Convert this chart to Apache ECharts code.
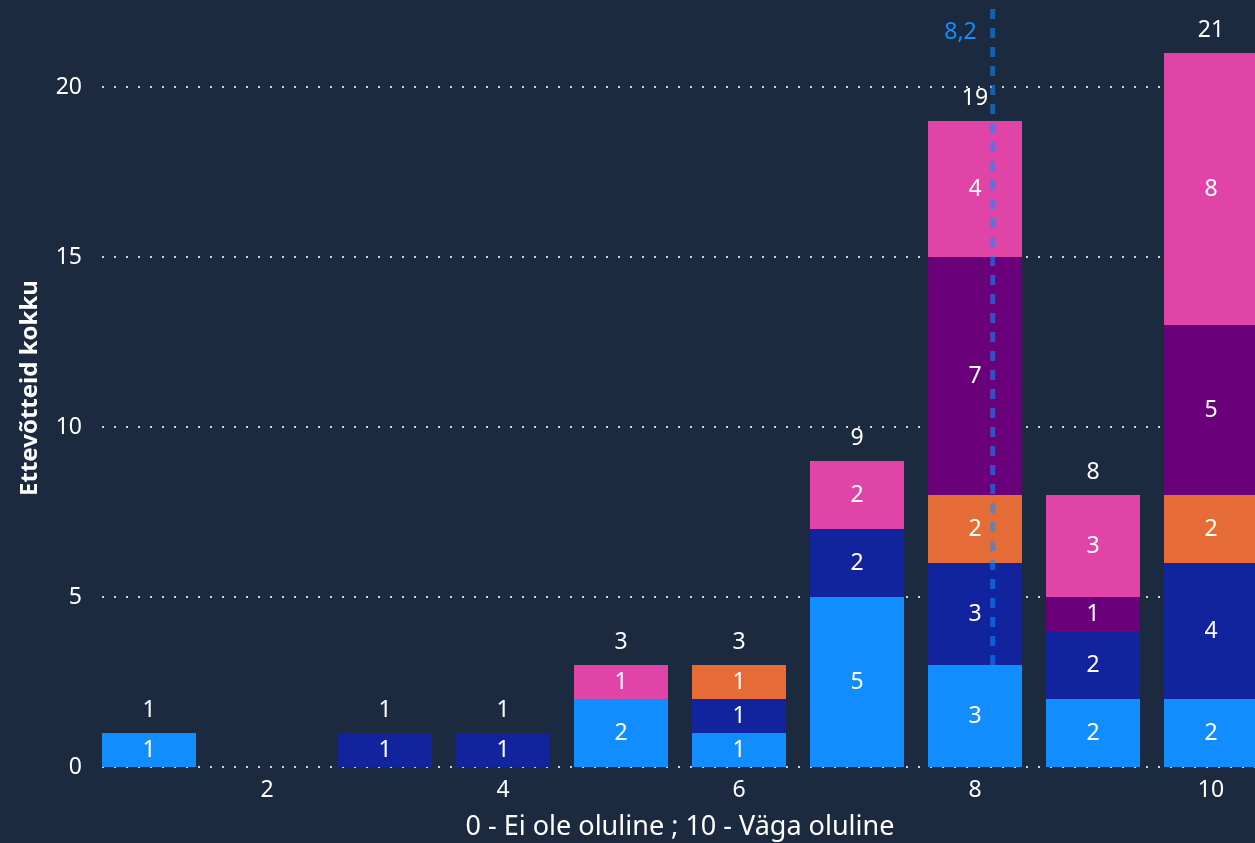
<!DOCTYPE html>
<html>
<head>
<meta charset="utf-8">
<script src="https://cdn.jsdelivr.net/npm/echarts@6/dist/echarts.min.js"></script>
<style>
html,body{margin:0;padding:0;background:#1b2a3f;}
#chart{width:1255px;height:843px;}
</style>
</head>
<body>
<div id="chart"></div>
<script>
const categories = ['1', '2', '3', '4', '5', '6', '7', '8', '9', '10'];
const lightBlue = [1, 0, 0, 0, 2, 1, 5, 3, 2, 2];
const darkBlue  = [0, 0, 1, 1, 0, 1, 2, 3, 2, 4];
const orange    = [0, 0, 0, 0, 0, 1, 0, 2, 0, 2];
const purple    = [0, 0, 0, 0, 0, 0, 0, 7, 1, 5];
const pink      = [0, 0, 0, 0, 1, 0, 2, 4, 3, 8];
const xTickLabels = ['2', '4', '6', '8', '10'];
const yTicks = [0, 5, 10, 15, 20];
const meanValue = 8.15;
const meanLineFrom = 3;
const meanLabelY = 21.6;
const xTitle = '0 - Ei ole oluline ; 10 - Väga oluline';
const yTitle = 'Ettevõtteid kokku';

const seriesDefs = [
  {name: 'a', data: lightBlue, color: '#118DFF'},
  {name: 'b', data: darkBlue, color: '#12239E'},
  {name: 'c', data: orange, color: '#E66C37'},
  {name: 'd', data: purple, color: '#6B007B'},
  {name: 'e', data: pink, color: '#E044A7'}
];
const totals = categories.map((c, i) => seriesDefs.reduce((s, d) => s + d.data[i], 0));

const labelFont = 'Noto Sans, Open Sans, sans-serif';
const titleFont = 'Noto Sans, Open Sans, sans-serif';
const labelSize = 23;

const chart = echarts.init(document.getElementById('chart'), null, {renderer: 'canvas'});
const series = seriesDefs.map(d => ({
  name: d.name,
  type: 'bar',
  stack: 'total',
  xAxisIndex: 1,
  yAxisIndex: 1,
  barWidth: 94,
  data: d.data,
  itemStyle: {color: d.color},
  label: {
    show: true, position: 'inside', color: '#ffffff', fontSize: labelSize, fontFamily: labelFont,
    formatter: p => (p.value ? String(p.value) : '')
  },
  z: 2
}));
series.push({
  type: 'scatter',
  xAxisIndex: 1,
  yAxisIndex: 1,
  symbolSize: 0,
  itemStyle: {opacity: 1},
  data: totals.map(t => (t > 0 ? t : '-')),
  label: {
    show: true, position: 'top', distance: 11, color: '#ffffff', fontSize: labelSize, fontFamily: labelFont,
    formatter: p => String(p.value)
  },
  z: 5
});
series.push({
  type: 'line',
  xAxisIndex: 2,
  yAxisIndex: 1,
  symbol: 'none',
  data: [[meanValue, meanLineFrom], [meanValue, 25]],
  lineStyle: {color: '#118DFF', opacity: 0.55, width: 5, type: [10, 9]},
  z: 6,
  silent: true
});
series.push({
  type: 'scatter',
  xAxisIndex: 2,
  yAxisIndex: 1,
  symbolSize: 0,
  itemStyle: {opacity: 1},
  data: [[meanValue, meanLabelY]],
  label: {
    show: true, position: 'left', distance: 16, color: '#118DFF', fontSize: labelSize, fontFamily: labelFont,
    formatter: () => meanValue.toFixed(1).replace('.', ',')
  },
  z: 6
});

chart.setOption({
  backgroundColor: '#1b2a3f',
  animation: false,
  grid: [
    {left: 102, right: 0, top: -83, bottom: 76, outerBoundsMode: 'none', containLabel: false},
    {left: 90, right: -15, top: -83, bottom: 76, outerBoundsMode: 'none', containLabel: false}
  ],
  graphic: [{
    type: 'text',
    x: 30,
    y: 388,
    rotation: Math.PI / 2,
    style: {
      text: yTitle, fill: '#ffffff', fontSize: 24, fontWeight: 'bold', fontFamily: titleFont,
      align: 'center', verticalAlign: 'middle'
    }
  }],
  xAxis: [
    {gridIndex: 0, type: 'value', min: 0, max: 1, show: false},
    {
      gridIndex: 1,
      type: 'category',
      data: categories,
      name: xTitle,
      nameLocation: 'middle',
      nameGap: 47,
      nameTextStyle: {color: '#ffffff', fontSize: 27, fontFamily: titleFont},
      axisLine: {show: false},
      axisTick: {show: false},
      splitLine: {show: false},
      axisLabel: {
        interval: 0,
        color: '#ffffff', fontSize: labelSize, fontFamily: labelFont, margin: 12,
        formatter: v => (xTickLabels.indexOf(v) >= 0 ? v : '')
      }
    },
    {gridIndex: 1, type: 'value', min: 0.5, max: 10.5, show: false}
  ],
  yAxis: [
    {
      gridIndex: 0,
      type: 'value',
      min: 0,
      max: 25,
      interval: 5,
      axisLine: {show: false},
      axisTick: {show: false},
      axisLabel: {
        color: '#ffffff', fontSize: labelSize, fontFamily: labelFont, margin: 20,
        formatter: v => (yTicks.indexOf(v) >= 0 ? String(v) : '')
      },
      splitLine: {show: true, lineStyle: {color: '#cfd3d8', width: 2, type: [2, 10]}}
    },
    {gridIndex: 1, type: 'value', min: 0, max: 25, interval: 5, show: false}
  ],
  series: series
});
</script>
</body>
</html>
